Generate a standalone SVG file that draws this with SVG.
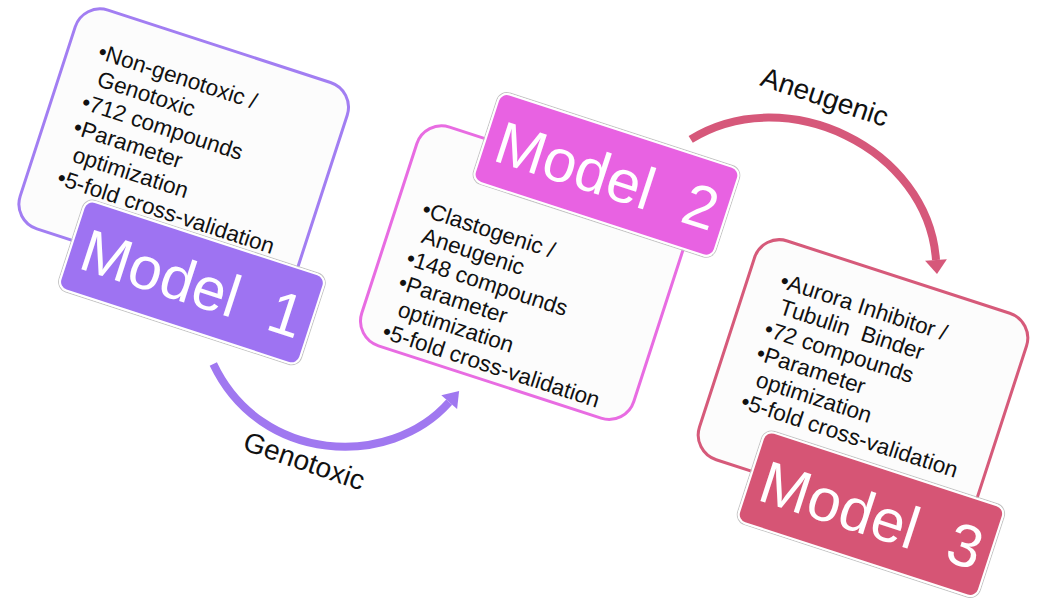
<svg xmlns="http://www.w3.org/2000/svg" width="1037" height="601" viewBox="0 0 1037 601">
<style>
.box{fill:#FCFCFC;stroke-width:3}
.b1{stroke:#A27EF2}
.b2{stroke:#E86CE2}
.b3{stroke:#D65A7A}
.lab{stroke:#FFFFFF;stroke-width:2}
.rim{fill:none;stroke:#C4C4C4;stroke-width:1}
.l1{fill:#9E73F2}
.l2{fill:#E862E2}
.l3{fill:#D65575}
.body{font-family:"Liberation Sans",Arial,sans-serif;font-size:22.5px;fill:#111}
.title{font-family:"Liberation Sans",Arial,sans-serif;font-size:60px;fill:#FFFFFF;text-anchor:middle}
.conn{fill:none;stroke-width:8}
.lbl{font-family:"Liberation Sans",Arial,sans-serif;font-size:28px;fill:#111}
</style>
<g id="connectors">
  <path class="conn" stroke="#A078F0" d="M213.3,364 C260.3,463.4 389.6,469.5 449.2,402.2"/>
  <polygon fill="#A078F0" points="441.3,395.3 459.1,391 457.1,409.1"/>
  <path class="conn" stroke="#D6587A" d="M690.7,139.3 C786,80.4 928,148 936,260"/>
  <polygon fill="#D6587A" points="925.1,260.8 946.9,259.2 937,274"/>
  <text class="lbl" transform="translate(241.5,449.5) rotate(19)">Genotoxic</text>
  <text class="lbl" transform="translate(759,85) rotate(18.5)">Aneugenic</text>
</g>
<g id="model1" transform="translate(183.7,155.7) rotate(18)">
  <rect class="box b1" x="-143" y="-115" width="286" height="230" rx="26"/>
  <text class="body">
    <tspan x="-113" y="-66">•Non-genotoxic /</tspan>
    <tspan x="-105.3" y="-39.5">Genotoxic</tspan>
    <tspan x="-113" y="-13">•712 compounds</tspan>
    <tspan x="-113" y="13.5">•Parameter</tspan>
    <tspan x="-105.3" y="40">optimization</tspan>
    <tspan x="-113" y="66.5">•5-fold cross-validation</tspan>
  </text>
  <rect class="rim" x="-80.5" y="70" width="255" height="96" rx="10.5"/>
  <rect class="lab l1" x="-79" y="71.5" width="252" height="93" rx="9"/>
  <text class="title" x="48" y="139.5">Model&#160;&#160;1</text>
</g>
<g id="model2" transform="translate(525.3,272.6) rotate(18)">
  <rect class="box b2" x="-143" y="-115" width="286" height="230" rx="26"/>
  <text class="body">
    <tspan x="-117" y="-22">•Clastogenic /</tspan>
    <tspan x="-109.3" y="3.7">Aneugenic</tspan>
    <tspan x="-117" y="29.4">•148 compounds</tspan>
    <tspan x="-117" y="55.1">•Parameter</tspan>
    <tspan x="-109.3" y="80.8">optimization</tspan>
    <tspan x="-117" y="106.5">•5-fold cross-validation</tspan>
  </text>
  <rect class="rim" x="-80.5" y="-166" width="255" height="96" rx="10.5"/>
  <rect class="lab l2" x="-79" y="-164.5" width="252" height="93" rx="9"/>
  <text class="title" x="48" y="-96.5">Model&#160;&#160;2</text>
</g>
<g id="model3" transform="translate(863,386.5) rotate(18)">
  <rect class="box b3" x="-143" y="-115" width="286" height="230" rx="26"/>
  <text class="body">
    <tspan x="-111" y="-68.6">•Aurora Inhibitor /</tspan>
    <tspan x="-103.3" y="-43.2">Tubulin&#160; Binder</tspan>
    <tspan x="-111" y="-17.8">•72 compounds</tspan>
    <tspan x="-111" y="7.6">•Parameter</tspan>
    <tspan x="-103.3" y="33">optimization</tspan>
    <tspan x="-111" y="58.4">•5-fold cross-validation</tspan>
  </text>
  <rect class="rim" x="-80.5" y="70" width="255" height="98" rx="10.5"/>
  <rect class="lab l3" x="-79" y="71.5" width="252" height="95" rx="9"/>
  <text class="title" x="48" y="140.5">Model&#160;&#160;3</text>
</g>
</svg>
